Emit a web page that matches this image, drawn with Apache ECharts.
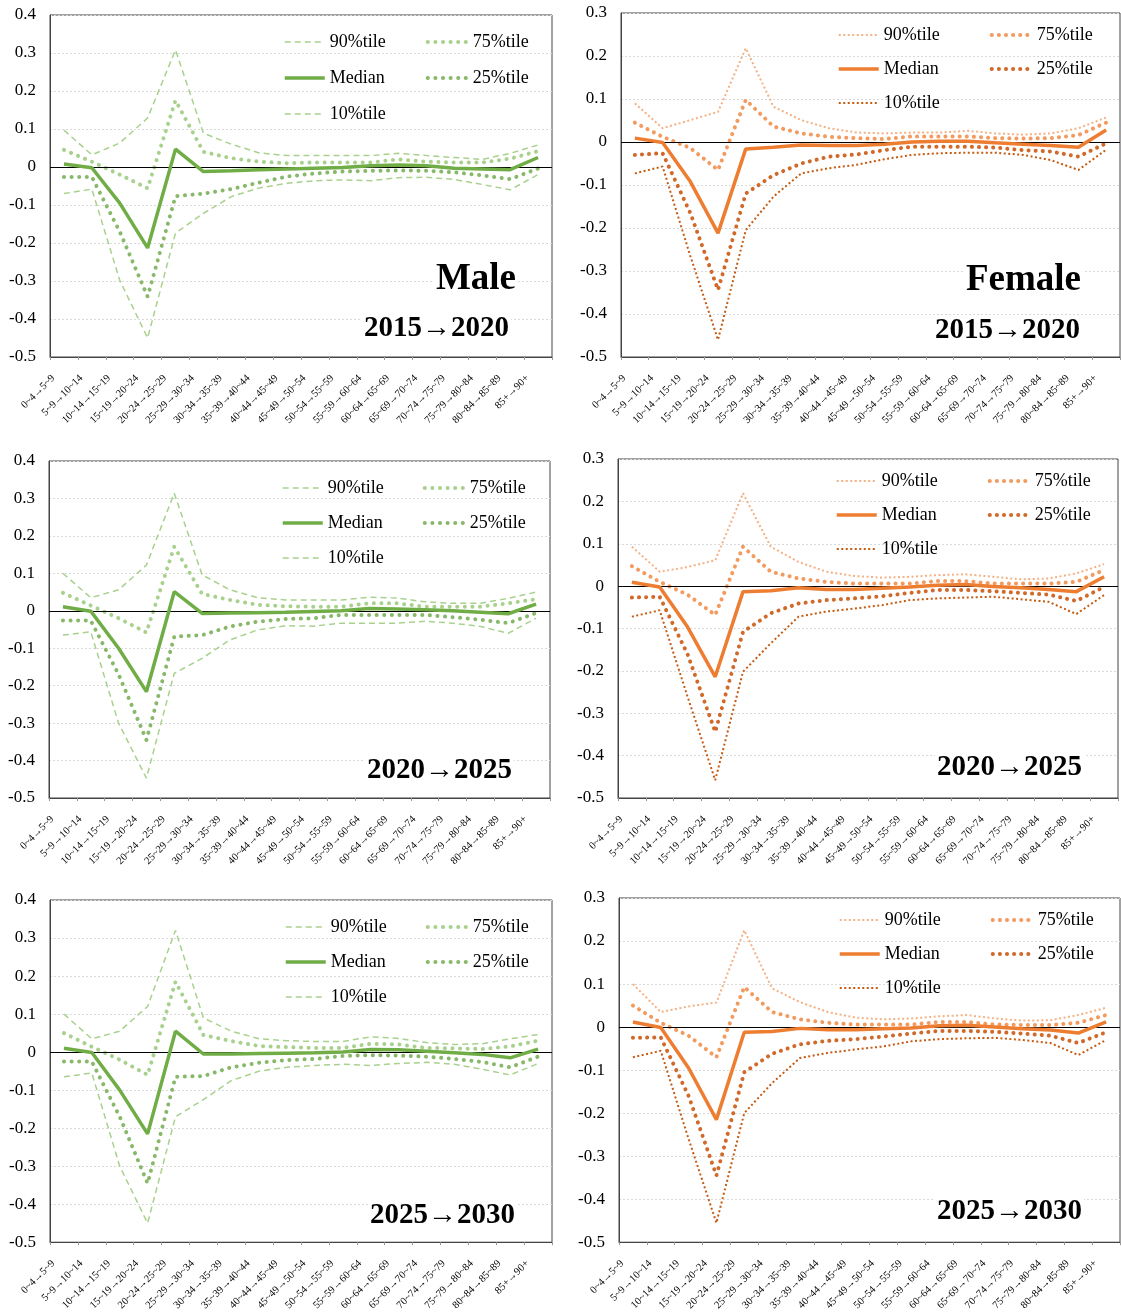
<!DOCTYPE html>
<html>
<head>
<meta charset="utf-8">
<script src="https://cdn.jsdelivr.net/npm/echarts@6/dist/echarts.min.js"></script>
<style>
  html, body { margin: 0; padding: 0; background: #fff; }
  #wrap { position: relative; width: 1121px; height: 1313px; }
  .panel { position: absolute; }
</style>
</head>
<body>
<div id="wrap">
  <div class="panel" id="m1" style="left:0;top:0;width:560px;height:440px;"></div>
  <div class="panel" id="f1" style="left:562px;top:0;width:559px;height:440px;"></div>
  <div class="panel" id="m2" style="left:0;top:440px;width:560px;height:440px;"></div>
  <div class="panel" id="f2" style="left:562px;top:440px;width:559px;height:440px;"></div>
  <div class="panel" id="m3" style="left:0;top:880px;width:560px;height:433px;"></div>
  <div class="panel" id="f3" style="left:562px;top:880px;width:559px;height:433px;"></div>
</div>
<script>
// age-group transitions (x axis)
const categories = ['0~4→5~9', '5~9→10~14', '10~14→15~19', '15~19→20~24', '20~24→25~29',
  '25~29→30~34', '30~34→35~39', '35~39→40~44', '40~44→45~49', '45~49→50~54', '50~54→55~59',
  '55~59→60~64', '60~64→65~69', '65~69→70~74', '70~74→75~79', '75~79→80~84', '80~84→85~89', '85+→90+'];
const seriesNames = ['90%tile', '75%tile', 'Median', '25%tile', '10%tile'];

// Male 2015→2020
const male1520_p90 = [0.097, 0.032, 0.063, 0.129, 0.308, 0.089, 0.06, 0.037, 0.03, 0.03, 0.03, 0.03, 0.036, 0.03, 0.025, 0.02, 0.036, 0.058];
const male1520_p75 = [0.045, 0.014, -0.02, -0.056, 0.175, 0.04, 0.023, 0.014, 0.01, 0.012, 0.012, 0.012, 0.02, 0.014, 0.012, 0.012, 0.022, 0.042];
const male1520_med = [0.008, -0.002, -0.095, -0.213, 0.047, -0.012, -0.01, -0.007, -0.005, -0.003, -0.001, 0.003, 0.005, 0.003, -0.003, -0.005, -0.007, 0.025];
const male1520_p25 = [-0.026, -0.026, -0.17, -0.341, -0.077, -0.07, -0.058, -0.041, -0.025, -0.017, -0.012, -0.01, -0.009, -0.01, -0.014, -0.022, -0.032, -0.004];
const male1520_p10 = [-0.07, -0.058, -0.298, -0.45, -0.174, -0.122, -0.078, -0.055, -0.043, -0.036, -0.034, -0.036, -0.028, -0.027, -0.033, -0.046, -0.06, -0.02];

// Female 2015→2020
const female1520_p90 = [0.09, 0.032, 0.051, 0.07, 0.218, 0.082, 0.051, 0.032, 0.022, 0.02, 0.022, 0.022, 0.026, 0.02, 0.017, 0.02, 0.032, 0.057];
const female1520_p75 = [0.045, 0.012, -0.014, -0.065, 0.098, 0.036, 0.02, 0.012, 0.009, 0.007, 0.013, 0.013, 0.013, 0.009, 0.008, 0.009, 0.016, 0.045];
const female1520_med = [0.009, -0.001, -0.092, -0.212, -0.016, -0.012, -0.007, -0.008, -0.008, -0.005, 0, 0.002, 0.002, -0.002, -0.005, -0.008, -0.012, 0.028];
const female1520_p25 = [-0.03, -0.026, -0.165, -0.344, -0.12, -0.077, -0.05, -0.034, -0.029, -0.019, -0.011, -0.011, -0.011, -0.013, -0.019, -0.022, -0.034, -0.003];
const female1520_p10 = [-0.073, -0.057, -0.265, -0.46, -0.205, -0.127, -0.073, -0.061, -0.053, -0.04, -0.03, -0.026, -0.025, -0.025, -0.03, -0.042, -0.065, -0.018];

// Male 2020→2025
const male2025_p90 = [0.1, 0.035, 0.056, 0.122, 0.314, 0.096, 0.056, 0.035, 0.029, 0.029, 0.029, 0.036, 0.034, 0.024, 0.02, 0.02, 0.033, 0.05];
const male2025_p75 = [0.048, 0.014, -0.02, -0.058, 0.171, 0.045, 0.029, 0.016, 0.012, 0.011, 0.011, 0.02, 0.02, 0.011, 0.011, 0.011, 0.02, 0.031];
const male2025_med = [0.011, -0.001, -0.1, -0.216, 0.051, -0.007, -0.006, -0.005, -0.004, -0.002, 0, 0.006, 0.005, 0.003, 0, -0.004, -0.008, 0.018];
const male2025_p25 = [-0.026, -0.026, -0.17, -0.345, -0.069, -0.065, -0.042, -0.029, -0.022, -0.02, -0.011, -0.011, -0.011, -0.011, -0.017, -0.024, -0.033, -0.006];
const male2025_p10 = [-0.065, -0.056, -0.3, -0.447, -0.167, -0.127, -0.078, -0.051, -0.04, -0.041, -0.033, -0.033, -0.033, -0.028, -0.033, -0.042, -0.06, -0.02];

// Female 2020→2025
const female2025_p90 = [0.093, 0.034, 0.045, 0.061, 0.219, 0.093, 0.057, 0.034, 0.024, 0.02, 0.022, 0.026, 0.028, 0.022, 0.016, 0.018, 0.03, 0.052];
const female2025_p75 = [0.047, 0.01, -0.02, -0.068, 0.093, 0.034, 0.018, 0.01, 0.006, 0.006, 0.006, 0.012, 0.012, 0.006, 0.006, 0.006, 0.01, 0.038];
const female2025_med = [0.009, -0.002, -0.096, -0.214, -0.013, -0.011, -0.004, -0.008, -0.008, -0.005, -0.002, 0.002, 0.004, -0.001, -0.004, -0.008, -0.013, 0.022];
const female2025_p25 = [-0.027, -0.025, -0.16, -0.344, -0.108, -0.064, -0.041, -0.033, -0.029, -0.024, -0.016, -0.009, -0.009, -0.012, -0.016, -0.02, -0.035, -0.002];
const female2025_p10 = [-0.072, -0.057, -0.26, -0.458, -0.202, -0.135, -0.072, -0.06, -0.053, -0.045, -0.033, -0.029, -0.027, -0.025, -0.031, -0.037, -0.066, -0.021];

// Male 2025→2030
const male2530_p90 = [0.1, 0.035, 0.055, 0.12, 0.32, 0.09, 0.055, 0.035, 0.03, 0.028, 0.028, 0.04, 0.036, 0.025, 0.02, 0.022, 0.035, 0.046];
const male2530_p75 = [0.05, 0.014, -0.02, -0.06, 0.185, 0.045, 0.029, 0.016, 0.013, 0.011, 0.011, 0.022, 0.02, 0.011, 0.01, 0.008, 0.015, 0.03];
const male2530_med = [0.01, -0.001, -0.1, -0.215, 0.055, -0.005, -0.005, -0.004, -0.003, -0.002, 0, 0.007, 0.006, 0.002, -0.002, -0.006, -0.015, 0.008];
const male2530_p25 = [-0.025, -0.025, -0.17, -0.345, -0.065, -0.063, -0.04, -0.028, -0.021, -0.018, -0.01, -0.008, -0.009, -0.012, -0.018, -0.026, -0.04, -0.012];
const male2530_p10 = [-0.065, -0.055, -0.3, -0.45, -0.17, -0.125, -0.075, -0.05, -0.04, -0.035, -0.032, -0.035, -0.03, -0.027, -0.032, -0.045, -0.06, -0.03];

// Female 2025→2030
const female2530_p90 = [0.1, 0.035, 0.048, 0.057, 0.225, 0.09, 0.058, 0.035, 0.022, 0.018, 0.02, 0.025, 0.028, 0.02, 0.015, 0.016, 0.028, 0.045];
const female2530_p75 = [0.05, 0.01, -0.02, -0.07, 0.093, 0.035, 0.018, 0.01, 0.006, 0.006, 0.006, 0.012, 0.012, 0.006, 0.005, 0.005, 0.01, 0.028];
const female2530_med = [0.012, -0.001, -0.095, -0.215, -0.012, -0.01, -0.003, -0.006, -0.006, -0.004, -0.002, 0.003, 0.004, 0, -0.004, -0.007, -0.014, 0.012];
const female2530_p25 = [-0.025, -0.024, -0.16, -0.345, -0.105, -0.062, -0.04, -0.032, -0.028, -0.022, -0.015, -0.009, -0.009, -0.011, -0.015, -0.02, -0.037, -0.012];
const female2530_p10 = [-0.07, -0.055, -0.26, -0.455, -0.2, -0.13, -0.072, -0.06, -0.052, -0.045, -0.033, -0.028, -0.026, -0.025, -0.03, -0.037, -0.065, -0.03];

const FONT = '"Liberation Serif", "Times New Roman", serif';

// line looks per sex, in the order of seriesNames
const maleStyles = [
  { color: '#A9D18E', width: 1.5, type: [6, 4], cap: 'butt' },
  { color: '#A9D18E', width: 4, type: [0.1, 7.5], cap: 'round' },
  { color: '#70AD47', width: 3.5, type: 'solid', cap: 'butt' },
  { color: '#88B86A', width: 4, type: [0.1, 7.5], cap: 'round' },
  { color: '#A9D18E', width: 1.5, type: [6, 4], cap: 'butt' }
];
const femaleStyles = [
  { color: '#F4B183', width: 2, type: [2, 2.5], cap: 'butt' },
  { color: '#F39A5F', width: 4, type: [0.1, 7], cap: 'round' },
  { color: '#ED7D31', width: 3.5, type: 'solid', cap: 'butt' },
  { color: '#D0692A', width: 4, type: [0.1, 7], cap: 'round' },
  { color: '#C55A11', width: 2, type: [2, 2.5], cap: 'butt' }
];

const panels = [
  { id: 'm1', styles: maleStyles, max: 0.4, values: [male1520_p90, male1520_p75, male1520_med, male1520_p25, male1520_p10],
    grid: { left: 50, top: 15, width: 502, height: 342 }, legend: { left: 283, top: 33, gap: 18, tw: 78 },
    sex: { text: 'Male', x: 518, y: 279 }, period: { text: '2015→2020', x: 511, y: 329 } },
  { id: 'f1', styles: femaleStyles, max: 0.3, values: [female1520_p90, female1520_p75, female1520_med, female1520_p25, female1520_p10],
    grid: { left: 59, top: 13, width: 499, height: 344 }, legend: { left: 275, top: 26, gap: 16, tw: 90 },
    sex: { text: 'Female', x: 521, y: 280 }, period: { text: '2015→2020', x: 520, y: 331 } },
  { id: 'm2', styles: maleStyles, max: 0.4, values: [male2025_p90, male2025_p75, male2025_med, male2025_p25, male2025_p10],
    grid: { left: 49, top: 21, width: 501, height: 337 }, legend: { left: 281, top: 39, gap: 17, tw: 78 },
    sex: null, period: { text: '2020→2025', x: 514, y: 331 } },
  { id: 'f2', styles: femaleStyles, max: 0.3, values: [female2025_p90, female2025_p75, female2025_med, female2025_p25, female2025_p10],
    grid: { left: 56, top: 19, width: 500, height: 339 }, legend: { left: 273, top: 32, gap: 16, tw: 90 },
    sex: null, period: { text: '2020→2025', x: 522, y: 328 } },
  { id: 'm3', styles: maleStyles, max: 0.4, values: [male2530_p90, male2530_p75, male2530_med, male2530_p25, male2530_p10],
    grid: { left: 50, top: 20, width: 502, height: 343 }, legend: { left: 284, top: 38, gap: 17, tw: 78 },
    sex: null, period: { text: '2025→2030', x: 517, y: 336 } },
  { id: 'f3', styles: femaleStyles, max: 0.3, values: [female2530_p90, female2530_p75, female2530_med, female2530_p25, female2530_p10],
    grid: { left: 57, top: 18, width: 501, height: 345 }, legend: { left: 276, top: 31, gap: 16, tw: 90 },
    sex: null, period: { text: '2025→2030', x: 522, y: 332 } }
];

function yLabel(v) {
  const r = Math.round(v * 10) / 10;
  return r === 0 ? '0' : r.toFixed(1);
}

panels.forEach(function (p) {
  const chart = echarts.init(document.getElementById(p.id), null, { renderer: 'canvas' });

  const series = seriesNames.map(function (name, i) {
    const st = p.styles[i];
    const s = {
      name: name,
      type: 'line',
      data: p.values[i],
      symbol: 'none',
      z: i === 2 ? 5 : 3,
      lineStyle: { color: st.color, width: st.width, type: st.type, cap: st.cap },
      itemStyle: { color: st.color },
      emphasis: { disabled: true }
    };
    if (i === 2) {
      s.markLine = {
        silent: true, symbol: 'none', label: { show: false }, animation: false,
        lineStyle: { color: '#000', width: 1, type: 'solid' },
        emphasis: { disabled: true },
        data: [{ yAxis: 0 }]
      };
    }
    return s;
  });

  // legend entries carry the same stroke as their lines
  const legendData = seriesNames.map(function (name, i) {
    const st = p.styles[i];
    return { name: name, lineStyle: { color: st.color, width: st.width, type: st.type, cap: st.cap } };
  });

  const graphics = [];
  if (p.sex) {
    graphics.push({ type: 'text', x: p.sex.x, y: p.sex.y, silent: true, z: 100,
      style: { text: p.sex.text, textAlign: 'right', textVerticalAlign: 'middle', fill: '#000',
        font: 'bold 37px ' + FONT, backgroundColor: '#fff', padding: [0, 2] } });
  }
  graphics.push({ type: 'text', x: p.period.x, y: p.period.y, silent: true, z: 100,
    style: { text: p.period.text, textAlign: 'right', textVerticalAlign: 'middle', fill: '#000',
      font: 'bold 29px ' + FONT, backgroundColor: '#fff', padding: [0, 2] } });

  const lg = p.legend;
  chart.setOption({
    animation: false,
    backgroundColor: '#fff',
    grid: {
      left: p.grid.left, top: p.grid.top, width: p.grid.width, height: p.grid.height,
      show: true, borderColor: '#444', borderWidth: 1, backgroundColor: 'transparent'
    },
    legend: {
      data: legendData,
      left: lg.left, top: lg.top,
      width: 2 * (40 + 5 + lg.tw) + lg.gap + 4,
      padding: 0,
      itemWidth: 40, itemHeight: 18, itemGap: lg.gap,
      selectedMode: false,
      itemStyle: { opacity: 0, borderWidth: 0 },
      textStyle: { fontFamily: FONT, fontSize: 18, color: '#000', width: lg.tw, lineHeight: 18 }
    },
    xAxis: {
      type: 'category',
      data: categories,
      boundaryGap: true,
      axisLine: { onZero: false, show: true, lineStyle: { color: '#444' } },
      axisTick: { show: true, length: 3, alignWithLabel: false, lineStyle: { color: '#999' } },
      axisLabel: { interval: 0, rotate: 45, fontFamily: FONT, fontSize: 10.5, color: '#000', margin: 9,
        padding: [0, 15, 0, 0] },
      splitLine: { show: false }
    },
    yAxis: {
      type: 'value',
      min: -0.5, max: p.max, interval: 0.1,
      axisLine: { show: true, lineStyle: { color: '#444' } },
      axisTick: { show: false },
      axisLabel: { formatter: yLabel, fontFamily: FONT, fontSize: 17, color: '#000', margin: 14 },
      splitLine: { show: true, lineStyle: { color: '#D9D9D9', width: 1, type: [2, 2] } }
    },
    graphic: graphics,
    series: series
  });
});
</script>
</body>
</html>
